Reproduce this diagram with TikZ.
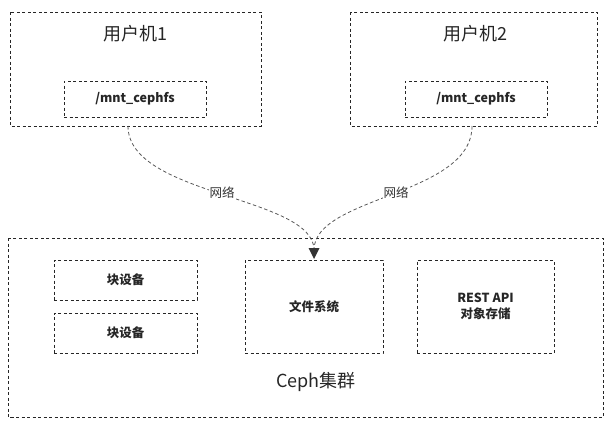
\documentclass[tikz,border=0pt]{standalone}
\usepackage{fontspec}
\setmainfont{Noto Sans CJK SC}
\usetikzlibrary{arrows.meta}
\begin{document}
\begin{tikzpicture}[x=1pt,y=-1pt,
  outer/.style={draw=black!85,line width=0.9pt,dash pattern=on 3pt off 2.5pt},
  inner/.style={draw=black!85,line width=0.9pt,dash pattern=on 3pt off 2.5pt},
  link/.style={draw=black!65,line width=0.8pt,dash pattern=on 3.5pt off 2.5pt},
  lbl/.style={font=\fontsize{12.5}{14}\selectfont,text=black!80,fill=white,inner sep=1pt},
  small/.style={font=\fontsize{12.5}{16}\selectfont\bfseries,text=black!85,align=center},
  big/.style={font=\fontsize{18}{20}\selectfont,text=black!85}]
\useasboundingbox (0,0) rectangle (611,423);
% user machines
\draw[outer] (10,12) rectangle (261,126);
\draw[outer] (350,12) rectangle (597,126);
\node[big] (t1) at (135.5,34) {用户机1};
\node[big] (t2) at (475,34) {用户机2};
\node[inner,minimum width=142pt,minimum height=36pt,small] (m1) at (135,99) {/mnt\_cephfs};
\node[inner,minimum width=142pt,minimum height=36pt,small] (m2) at (476,99) {/mnt\_cephfs};
% cluster
\draw[outer] (8,238) rectangle (603,417);
\node[inner,minimum width=143pt,minimum height=40pt,small] (b1) at (125.5,280) {块设备};
\node[inner,minimum width=143pt,minimum height=40pt,small] (b2) at (125.5,333) {块设备};
\node[inner,minimum width=138pt,minimum height=93pt,small] (fs) at (314,306.5) {文件系统};
\node[inner,minimum width=137pt,minimum height=93pt,small] (os) at (485.5,306.5) {REST API\\对象存储};
\node[big] (ceph) at (316,382) {Ceph集群};
% links
\coordinate (tip) at (314,258);
\draw[link] (128,126) .. controls (128,196) and (314,196) .. (314,250);
\draw[link] (472,126) .. controls (472,196) and (314,196) .. (314,250);
\fill[black!80] (308.5,248) -- (319.5,248) -- (314,259) -- cycle;
\node[lbl] (n1) at (222,193) {网络};
\node[lbl] (n2) at (396,193) {网络};
\end{tikzpicture}
\end{document}
